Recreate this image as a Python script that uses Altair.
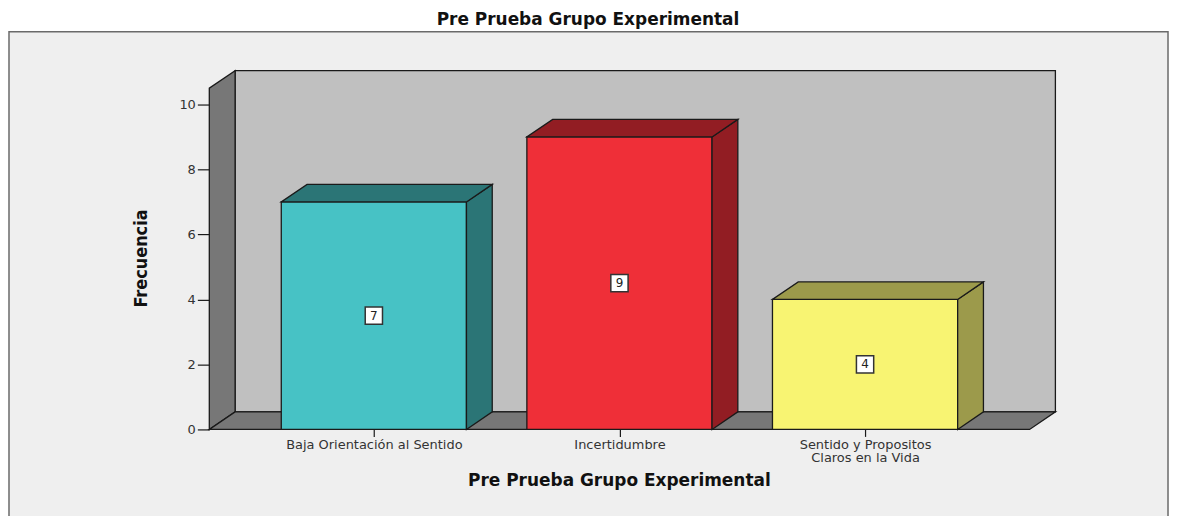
import json
import altair as alt
import pandas as pd

# ---------------- data ----------------
titulo = "Pre Prueba Grupo Experimental"
titulo_x = "Pre Prueba Grupo Experimental"
titulo_y = "Frecuencia"
categorias = ["Baja Orientación al Sentido", "Incertidumbre", "Sentido y Propositos\nClaros en la Vida"]
frecuencias = [7, 9, 4]
colores_frente = ["#47C2C5", "#EF2F38", "#F8F472"]
colores_lado = ["#2B7576", "#921D23", "#9C9A4B"]
ticks_y = [0, 2, 4, 6, 8, 10]

# ---------------- geometry (styling) ----------------
XL, XFR = 0.33, 3.67      # front floor extent in category units
D, E = 0.105, 0.54        # 3-D depth offset (x units, y units)
HW = 0.377                # half bar width
WALL = 10.5               # wall height
XMAX = XFR + D
YMAX = WALL + E
W, H = 849, 360

pos = list(range(1, len(categorias) + 1))
bars = pd.DataFrame({
    "pos": pos,
    "cat": categorias,
    "val": frecuencias,
    "base": [0] * len(pos),
    "mid": [v / 2 for v in frecuencias],
    "x0": [p - HW for p in pos],
    "x1": [p + HW for p in pos],
    "cf": colores_frente,
})

# side / top faces of bars, built from the values
faces = []
for p, v, c in zip(pos, frecuencias, colores_lado):
    x0, x1 = p - HW, p + HW
    faces += [
        dict(g=f"s{p}", x=x1, lo=0, hi=v, c=c),
        dict(g=f"s{p}", x=x1 + D, lo=E, hi=v + E, c=c),
        dict(g=f"t{p}", x=x0, lo=v, hi=v, c=c),
        dict(g=f"t{p}", x=x0 + D, lo=v, hi=v + E, c=c),
        dict(g=f"t{p}", x=x1, lo=v, hi=v + E, c=c),
        dict(g=f"t{p}", x=x1 + D, lo=v + E, hi=v + E, c=c),
    ]
faces = pd.DataFrame(faces)

back = pd.DataFrame([
    dict(g="back", x=XL + D, lo=E, hi=WALL + E, c="#C0C0C0"),
    dict(g="back", x=XFR + D, lo=E, hi=WALL + E, c="#C0C0C0"),
])
sides = pd.DataFrame([
    dict(g="left", x=XL, lo=0, hi=WALL, c="#777777"),
    dict(g="left", x=XL + D, lo=E, hi=WALL + E, c="#777777"),
    dict(g="floor", x=XL + 0.0001, lo=0, hi=0, c="#777777"),
    dict(g="floor", x=XL + D, lo=0, hi=E, c="#777777"),
    dict(g="floor", x=XFR, lo=0, hi=E, c="#777777"),
    dict(g="floor", x=XFR + D, lo=E, hi=E, c="#777777"),
])

# ---------------- scales / axes ----------------
label_expr = "split(" + json.dumps(categorias, ensure_ascii=False) + "[datum.value - 1], '\\n')"

xscale = alt.Scale(domain=[XL, XMAX], nice=False, zero=False)
yscale = alt.Scale(domain=[0, YMAX], nice=False, zero=True)
xaxis = alt.Axis(
    values=pos, labelExpr=label_expr, tickSize=7, tickColor="#1a1a1a", tickWidth=1.2,
    domain=False, grid=False, labelFont="DejaVu Sans", labelFontSize=13, labelColor="#333333",
    labelPadding=2, labelAlign="center", labelBaseline="top", labelLineHeight=13,
    labelFlush=False, labelOverlap=False, zindex=2,
    title=titulo_x, titleX=411, titleY=51, titleAlign="center", titleBaseline="middle",
    titleFont="DejaVu Sans", titleFontSize=17, titleFontWeight="bold", titleColor="#111111",
)
yaxis = alt.Axis(
    values=ticks_y, tickSize=12, tickColor="#1a1a1a", tickWidth=1.2, domain=False, grid=False,
    labelFont="DejaVu Sans", labelFontSize=13, labelColor="#333333", labelPadding=2, zindex=2,
    title=titulo_y, titleX=-68, titleY=188, titleAngle=270, titleAlign="center",
    titleBaseline="middle", titleFont="Liberation Sans Narrow, DejaVu Sans Condensed, sans-serif",
    titleFontSize=18, titleFontWeight="bold", titleColor="#111111",
)


def X(f):
    return alt.X(f, type="quantitative", scale=xscale, axis=xaxis)


def Y(f):
    return alt.Y(f, type="quantitative", scale=yscale, axis=yaxis, stack=None)


one = pd.DataFrame({"a": [0]})

frame = alt.Chart(one).mark_rect(fill="#EFEFEF", stroke="#6a6a6a", strokeWidth=1.5).encode(
    x=alt.value(-201), x2=alt.value(962), y=alt.value(-39), y2=alt.value(470)
)
title_mark = alt.Chart(one).mark_text(
    font="DejaVu Sans", fontSize=17, fontWeight="bold", color="#111111", baseline="alphabetic"
).encode(x=alt.value(380), y=alt.value(-46), text=alt.value(titulo))

area_kw = dict(orient="vertical", interpolate="linear", stroke="#1a1a1a", strokeWidth=1.3, opacity=1)

back_l = alt.Chart(back).mark_area(**area_kw).encode(
    x=X("x"), y=Y("lo"), y2="hi", fill=alt.Fill("c:N", scale=None), detail="g:N")
sides_l = alt.Chart(sides).mark_area(**area_kw).encode(
    x=X("x"), y=Y("lo"), y2="hi", fill=alt.Fill("c:N", scale=None), detail="g:N")
fronts = alt.Chart(bars).mark_rect(stroke="#1a1a1a", strokeWidth=1.3).encode(
    x=X("x0"), x2="x1", y=Y("base"), y2="val", fill=alt.Fill("cf:N", scale=None))
faces_l = alt.Chart(faces).mark_area(**area_kw).encode(
    x=X("x"), y=Y("lo"), y2="hi", fill=alt.Fill("c:N", scale=None), detail="g:N")
boxes = alt.Chart(bars).mark_point(
    shape="square", filled=True, fill="white", stroke="#333333", strokeWidth=1.5, size=300, opacity=1
).encode(x=X("pos"), y=Y("mid"))
nums = alt.Chart(bars).mark_text(font="DejaVu Sans", fontSize=12, color="#222222").encode(
    x=X("pos"), y=Y("mid"), text="val:Q")

chart = alt.layer(frame, title_mark, back_l, sides_l, fronts, faces_l, boxes, nums).properties(
    width=W, height=H,
    autosize=alt.AutoSizeParams(type="none"),
    padding={"left": 202, "top": 62, "right": 116, "bottom": 86},
    background="white",
).configure_view(strokeWidth=0)

chart.save("out.html", embed_options={"renderer": "svg", "actions": False})
